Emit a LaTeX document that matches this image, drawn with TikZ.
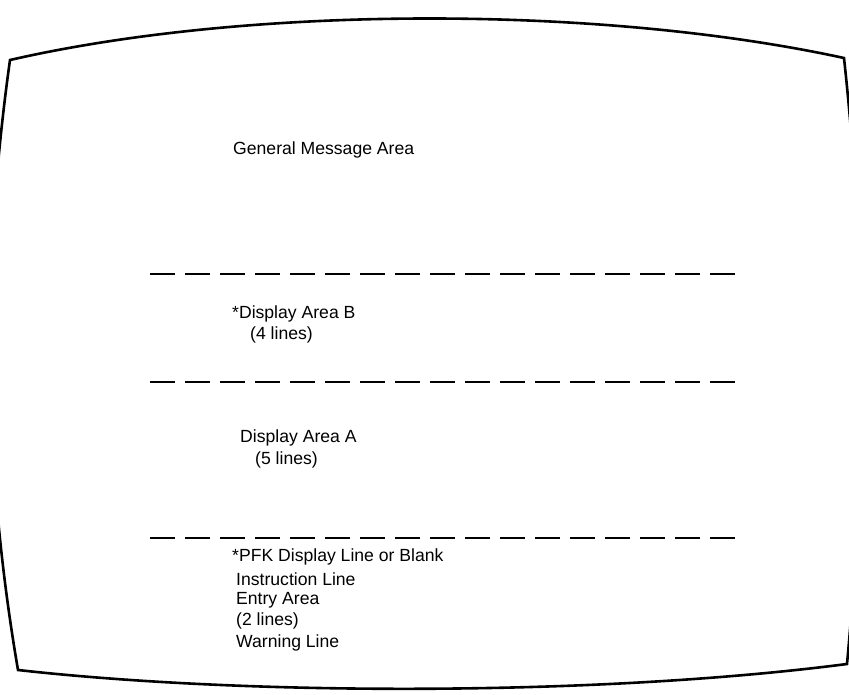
\documentclass[tikz,border=0pt]{standalone}
\usepackage{fontspec}
\setmainfont{Liberation Sans}
\begin{document}
\begin{tikzpicture}[x=1pt, y=-1pt,
        label/.style={anchor=west, inner sep=0pt, font=\fontsize{17.6}{20}\selectfont},
        divider/.style={line width=1.6pt, dash pattern=on 25pt off 10pt}]

        % Frame of the picture
        \useasboundingbox (0, 0) rectangle (849, 695);

        % Screen outline
        \coordinate (tl) at (10, 60);
        \coordinate (tr) at (844, 58);
        \coordinate (br) at (847, 664);
        \coordinate (bl) at (18, 670);
        \draw[line width=2.6pt, line join=miter]
            (tl) .. controls (250, 5) and (600, 5) .. (tr)
            .. controls (866, 260) and (866, 460) .. (br)
            .. controls (600, 696) and (250, 696) .. (bl)
            .. controls (-18, 460) and (-18, 260) .. cycle;

        % Dividing lines
        \foreach \y/\name in {274/divB, 382/divA, 538/divPFK} {
            \coordinate (\name west) at (150, \y);
            \coordinate (\name east) at (740, \y);
            \draw[divider] (\name west) -- (\name east);
        }

        % Areas
        \node (general) [label] at (233, 150) {General Message Area};
        \node (areaB) [label] at (232, 314) {*Display Area B};
        \node (linesB) [label] at (250, 335) {(4 lines)};
        \node (areaA) [label] at (240, 438) {Display Area A};
        \node (linesA) [label] at (255, 460) {(5 lines)};
        \node (pfk) [label] at (232, 557) {*PFK Display Line or Blank};
        \node (instr) [label] at (236, 579) {Instruction Line};
        \node (entry) [label] at (236, 600) {Entry Area};
        \node (linesE) [label] at (236, 621) {(2 lines)};
        \node (warn) [label] at (236, 643) {Warning Line};

    \end{tikzpicture}
\end{document}
